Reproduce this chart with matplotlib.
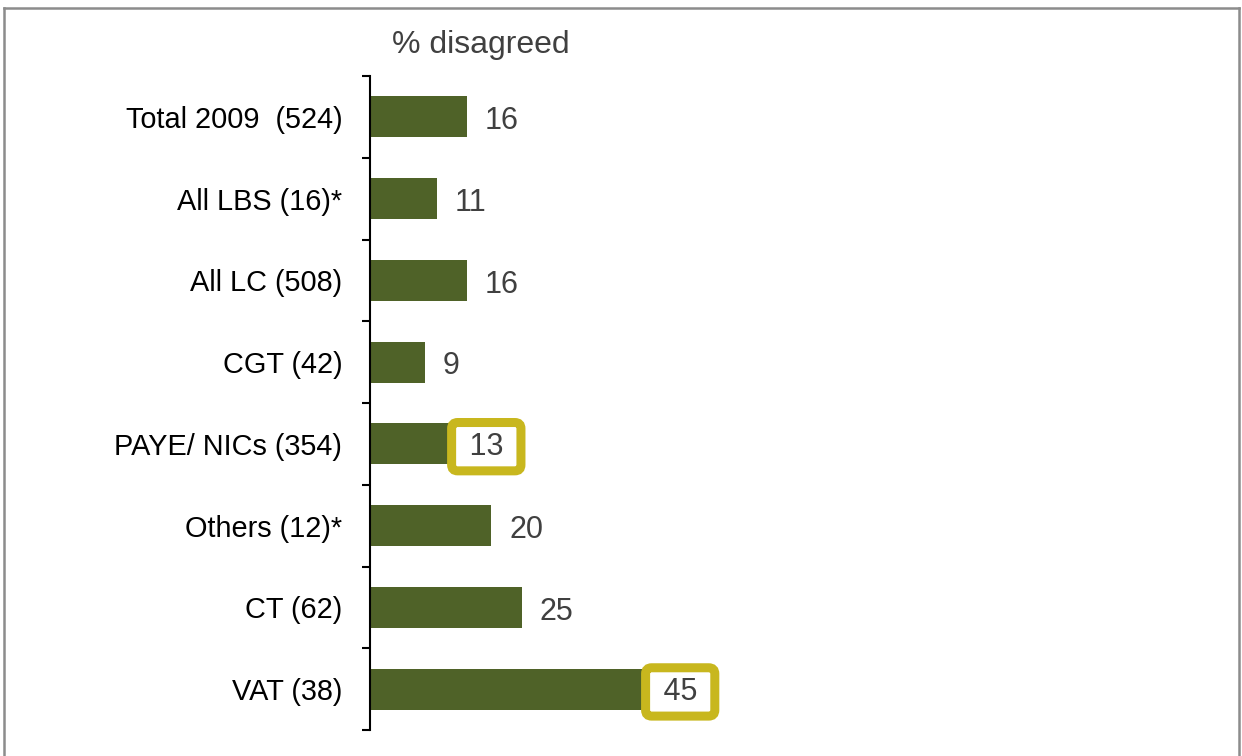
import matplotlib
matplotlib.use("Agg")
import matplotlib.pyplot as plt
from matplotlib.lines import Line2D

categories = ["Total 2009  (524)", "All LBS (16)*", "All LC (508)", "CGT (42)",
              "PAYE/ NICs (354)", "Others (12)*", "CT (62)", "VAT (38)"]
values = [16, 11, 16, 9, 13, 20, 25, 45]
highlighted = [False, False, False, False, True, False, False, True]
title = "% disagreed"

plt.rcParams['font.family'] = ['Liberation Sans', 'DejaVu Sans']

W, H = 1242, 756
fig = plt.figure(figsize=(W / 100, H / 100), dpi=100)
left_px, right_px, top_px, bottom_px = 370, 1200, 76, 730
ax = fig.add_axes([left_px / W, 1 - bottom_px / H, (right_px - left_px) / W,
                   (bottom_px - top_px) / H])

n = len(categories)
ypos = list(range(n))
ax.barh(ypos, values, height=0.5, color="#4F6228", zorder=2)
ax.set_ylim(n - 0.5, -0.5)
ax.set_xlim(0, (right_px - left_px) / 6.06)

for sp in ["top", "right", "bottom"]:
    ax.spines[sp].set_visible(False)
ax.spines["left"].set_linewidth(1.5)
ax.set_xticks([])
ax.set_yticks(ypos)
ax.set_yticklabels(categories, fontsize=20.8, color="black")
ax.tick_params(axis="y", which="major", length=0, pad=20)
ax.set_yticks([i - 0.5 for i in range(n + 1)], minor=True)
ax.tick_params(axis="y", which="minor", length=6, width=1.5, direction="out")

for y, v, hl in zip(ypos, values, highlighted):
    if hl:
        ax.annotate(" %d " % v, xy=(v, y), xytext=(27, 0.5), textcoords="offset points",
                    ha="center", va="center_baseline", fontsize=22, color="#404040",
                    bbox=dict(boxstyle="round,pad=0.3,rounding_size=0.2",
                              facecolor="white", edgecolor="#C8B71E", linewidth=6.5),
                    zorder=3)
    else:
        ax.annotate(str(v), xy=(v, y), xytext=(13, -0.5), textcoords="offset points",
                    ha="left", va="center_baseline", fontsize=22, color="#404040")

fig.text(481 / W, 1 - 45 / H, title, ha="center", va="center", fontsize=23,
         color="#404040")

# outer frame (left, top, right)
c = "#8C8C8C"
fig.add_artist(Line2D([4 / W, 4 / W], [0, 1 - 8 / H], transform=fig.transFigure, color=c, lw=1.8))
fig.add_artist(Line2D([4 / W, 1239 / W], [1 - 8 / H, 1 - 8 / H], transform=fig.transFigure, color=c, lw=1.8))
fig.add_artist(Line2D([1239 / W, 1239 / W], [0, 1 - 8 / H], transform=fig.transFigure, color=c, lw=1.8))

fig.savefig("out.png", dpi=100)
